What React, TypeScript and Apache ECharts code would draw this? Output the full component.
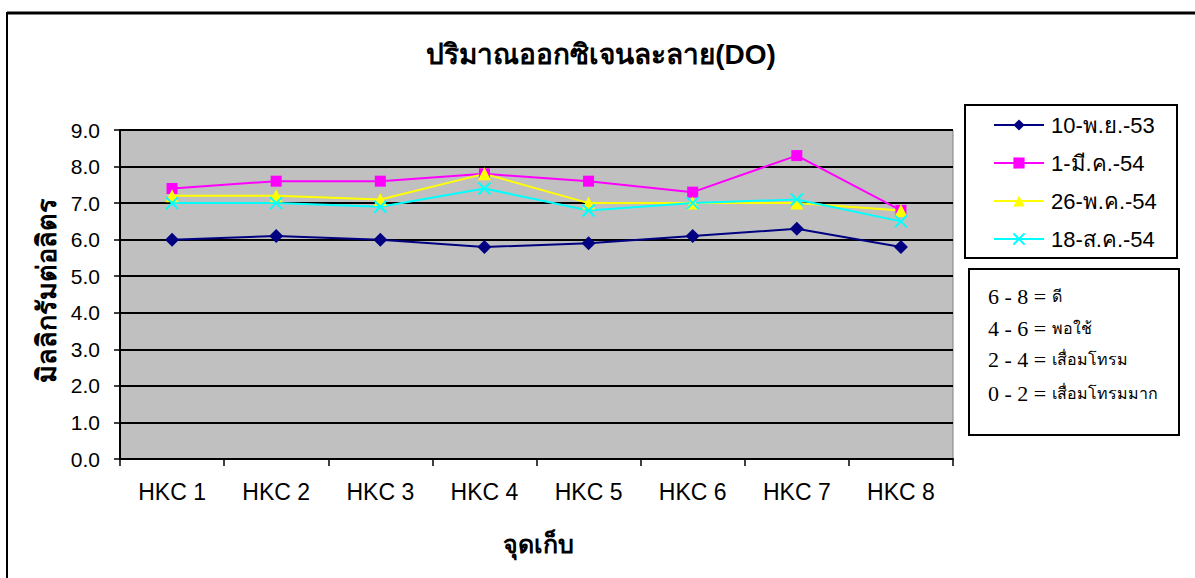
import React, { useEffect, useRef } from "react";
import * as echarts from "echarts";

const categories = ["HKC 1", "HKC 2", "HKC 3", "HKC 4", "HKC 5", "HKC 6", "HKC 7", "HKC 8"];
const seriesNames = ["10-พ.ย.-53", "1-มี.ค.-54", "26-พ.ค.-54", "18-ส.ค.-54"];
const s1 = [6.0, 6.1, 6.0, 5.8, 5.9, 6.1, 6.3, 5.8];
const s2 = [7.4, 7.6, 7.6, 7.8, 7.6, 7.3, 8.3, 6.8];
const s3 = [7.2, 7.2, 7.1, 7.8, 7.0, 7.0, 7.0, 6.8];
const s4 = [7.0, 7.0, 6.9, 7.4, 6.8, 7.0, 7.1, 6.5];
const yTicks = { min: 0, max: 9, interval: 1 };
const noteLines = [
  ["6 - 8 = ", "ดี"],
  ["4 - 6 = ", "พอใช้"],
  ["2 - 4 = ", "เสื่อมโทรม"],
  ["0 - 2 = ", "เสื่อมโทรมมาก"],
];
const titleText = "ปริมาณออกซิเจนละลาย(DO)";
const yName = "มิลลิกรัมต่อลิตร";
const xName = "จุดเก็บ";

const SANS = 'Arial, "Liberation Sans", sans-serif';
const SERIF = '"Times New Roman", "Liberation Serif", serif';

export default function App() {
  const ref = useRef<HTMLDivElement>(null);
  useEffect(() => {
    if (!ref.current) return;
    const chart = echarts.init(ref.current, undefined, { renderer: "svg" });
    const mk = (name: string, data: number[], color: string, symbol: string, size: number, extra: any = {}) => ({
      name,
      type: "line",
      data,
      symbol,
      symbolSize: size,
      lineStyle: { color, width: 2 },
      itemStyle: { color, ...extra },
      emphasis: { disabled: true },
    });
    chart.setOption({
      animation: false,
      backgroundColor: "#ffffff",
      grid: {
        left: 120,
        top: 130,
        right: 242,
        bottom: 119,
        show: true,
        backgroundColor: "#c0c0c0",
        borderColor: "#808080",
        borderWidth: 1,
      },
      xAxis: {
        type: "category",
        data: categories,
        boundaryGap: true,
        axisLine: { lineStyle: { color: "#000", width: 2 } },
        axisTick: { show: true, length: 7, lineStyle: { color: "#000", width: 1.5 } },
        axisLabel: { fontSize: 23, color: "#000", fontFamily: SANS, margin: 21 },
      },
      yAxis: {
        type: "value",
        min: yTicks.min,
        max: yTicks.max,
        interval: yTicks.interval,
        axisLine: { show: true, lineStyle: { color: "#000", width: 2 } },
        axisTick: { show: true, length: 6, lineStyle: { color: "#000", width: 1.5 } },
        axisLabel: {
          fontSize: 21,
          color: "#000",
          fontFamily: SANS,
          margin: 20,
          formatter: (v: number) => v.toFixed(1),
        },
        splitLine: { show: true, lineStyle: { color: "#000", width: 2 } },
      },
      legend: {
        orient: "vertical",
        left: 993,
        top: 114,
        padding: 0,
        itemWidth: 50,
        itemHeight: 14,
        itemGap: 16,
        textStyle: { fontSize: 22, lineHeight: 22, color: "#000", fontFamily: SANS, padding: [0, 0, 0, 2] },
        data: seriesNames,
      },
      series: [
        mk(seriesNames[0], s1, "#000080", "diamond", 14),
        mk(seriesNames[1], s2, "#ff00ff", "rect", 11),
        mk(seriesNames[2], s3, "#ffff00", "triangle", 13),
        mk(seriesNames[3], s4, "#00ffff", "path://M0,0L10,10M10,0L0,10", 12, {
          borderColor: "#00ffff",
          borderWidth: 2,
        }),
      ],
      graphic: [
        {
          type: "rect",
          silent: true,
          shape: { x: 7, y: 13, width: 1200, height: 600 },
          style: { fill: "none", stroke: "#000", lineWidth: 2 },
        },
        {
          type: "line",
          silent: true,
          shape: { x1: 7, y1: 13, x2: 1195, y2: 13 },
          style: { stroke: "#000", lineWidth: 3 },
        },
        {
          type: "text",
          silent: true,
          x: 601,
          y: 54,
          style: {
            text: titleText,
            font: `bold 28px ${SANS}`,
            fill: "#000",
            textAlign: "center",
            textVerticalAlign: "middle",
          },
        },
        {
          type: "text",
          silent: true,
          x: 47,
          y: 290,
          rotation: Math.PI / 2,
          style: {
            text: yName,
            font: `bold 27px ${SANS}`,
            fill: "#000",
            textAlign: "center",
            textVerticalAlign: "middle",
          },
        },
        {
          type: "text",
          silent: true,
          x: 538,
          y: 544,
          style: {
            text: xName,
            font: `bold 25px ${SANS}`,
            fill: "#000",
            textAlign: "center",
            textVerticalAlign: "middle",
          },
        },
        {
          type: "rect",
          silent: true,
          shape: { x: 965, y: 105, width: 212, height: 153 },
          style: { fill: "#fff", stroke: "#000", lineWidth: 2 },
          z: -1,
        },
        {
          type: "rect",
          silent: true,
          shape: { x: 969, y: 269, width: 210, height: 166 },
          style: { fill: "#fff", stroke: "#000", lineWidth: 2 },
        },
        ...noteLines.map((l, i) => ({
          type: "text",
          silent: true,
          x: 988,
          y: [296, 328, 359, 393][i],
          style: {
            text: `{a|${l[0]}}{b|${l[1]}}`,
            textVerticalAlign: "middle",
            rich: {
              a: { fontFamily: SERIF, fontSize: 22, fill: "#000", color: "#000" },
              b: { fontFamily: SERIF, fontSize: 16, fill: "#000", color: "#000" },
            },
          },
        })),
      ],
    });
    return () => chart.dispose();
  }, []);
  return (
    <div
      ref={ref}
      style={{ position: "fixed", left: 0, top: 0, width: 1195, height: 578, background: "#fff" }}
    />
  );
}
